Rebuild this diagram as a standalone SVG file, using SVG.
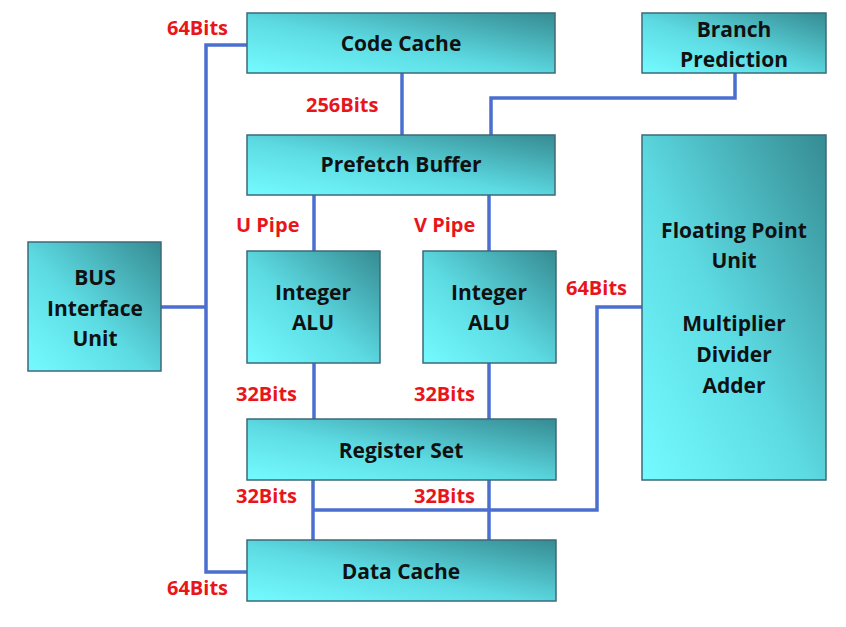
<svg xmlns="http://www.w3.org/2000/svg" width="846" height="627" viewBox="0 0 846 627">
<defs>
<linearGradient id="g" x1="0" y1="1" x2="1" y2="0">
<stop offset="0" stop-color="#74fbff"/>
<stop offset="0.45" stop-color="#5ddbe3"/>
<stop offset="1" stop-color="#368b92"/>
</linearGradient>
<style>
.box{fill:url(#g);stroke:#3d6a7a;stroke-width:1.5}
.t{font-family:"Open Sans","Liberation Sans",sans-serif;font-weight:bold;font-size:21px;fill:#111;text-anchor:middle}
.r{font-family:"Open Sans","Liberation Sans",sans-serif;font-weight:bold;font-size:20px;fill:#e8161b}
.c{fill:none;stroke:#4a6fd0;stroke-width:3.5}
</style>
</defs>
<rect width="846" height="627" fill="#fff"/>
<g id="connectors">
<polyline class="c" points="247,45 206,45 206,572 247,572"/>
<line class="c" x1="161" y1="307" x2="206" y2="307"/>
<line class="c" x1="402" y1="73" x2="402" y2="135"/>
<polyline class="c" points="735,73 735,98 491,98 491,135"/>
<line class="c" x1="314" y1="195" x2="314" y2="251"/>
<line class="c" x1="489" y1="195" x2="489" y2="251"/>
<line class="c" x1="314" y1="363" x2="314" y2="419"/>
<line class="c" x1="489" y1="363" x2="489" y2="419"/>
<line class="c" x1="313" y1="480" x2="313" y2="540"/>
<line class="c" x1="489" y1="480" x2="489" y2="540"/>
<polyline class="c" points="313,510 597,510 597,307 642,307"/>
</g>
<g id="labels">
<text class="r" x="167" y="35">64Bits</text>
<text class="r" x="306" y="112">256Bits</text>
<text class="r" x="236" y="232">U Pipe</text>
<text class="r" x="414" y="232">V Pipe</text>
<text class="r" x="566" y="295">64Bits</text>
<text class="r" x="236" y="401">32Bits</text>
<text class="r" x="414" y="401">32Bits</text>
<text class="r" x="236" y="503">32Bits</text>
<text class="r" x="414" y="503">32Bits</text>
<text class="r" x="167" y="595">64Bits</text>
</g>
<g id="code-cache"><rect class="box" x="247" y="13" width="308" height="60"/><text class="t" x="401" y="51">Code Cache</text></g>
<g id="branch-prediction"><rect class="box" x="642" y="13" width="184" height="60"/><text class="t" x="734" y="37">Branch</text><text class="t" x="734" y="67">Prediction</text></g>
<g id="prefetch-buffer"><rect class="box" x="247" y="135" width="308" height="60"/><text class="t" x="401" y="172">Prefetch Buffer</text></g>
<g id="bus-interface"><rect class="box" x="28" y="242" width="133" height="129"/><text class="t" x="95" y="285">BUS</text><text class="t" x="95" y="316">Interface</text><text class="t" x="95" y="346">Unit</text></g>
<g id="integer-alu-u"><rect class="box" x="247" y="251" width="133" height="112"/><text class="t" x="313" y="300">Integer</text><text class="t" x="313" y="330">ALU</text></g>
<g id="integer-alu-v"><rect class="box" x="423" y="251" width="133" height="112"/><text class="t" x="489" y="300">Integer</text><text class="t" x="489" y="330">ALU</text></g>
<g id="fpu"><rect class="box" x="642" y="135" width="184" height="345"/><text class="t" x="734" y="238">Floating Point</text><text class="t" x="734" y="268">Unit</text><text class="t" x="734" y="331">Multiplier</text><text class="t" x="734" y="362">Divider</text><text class="t" x="734" y="393">Adder</text></g>
<g id="register-set"><rect class="box" x="247" y="419" width="309" height="61"/><text class="t" x="401" y="458">Register Set</text></g>
<g id="data-cache"><rect class="box" x="247" y="540" width="309" height="61"/><text class="t" x="401" y="579">Data Cache</text></g>
</svg>
